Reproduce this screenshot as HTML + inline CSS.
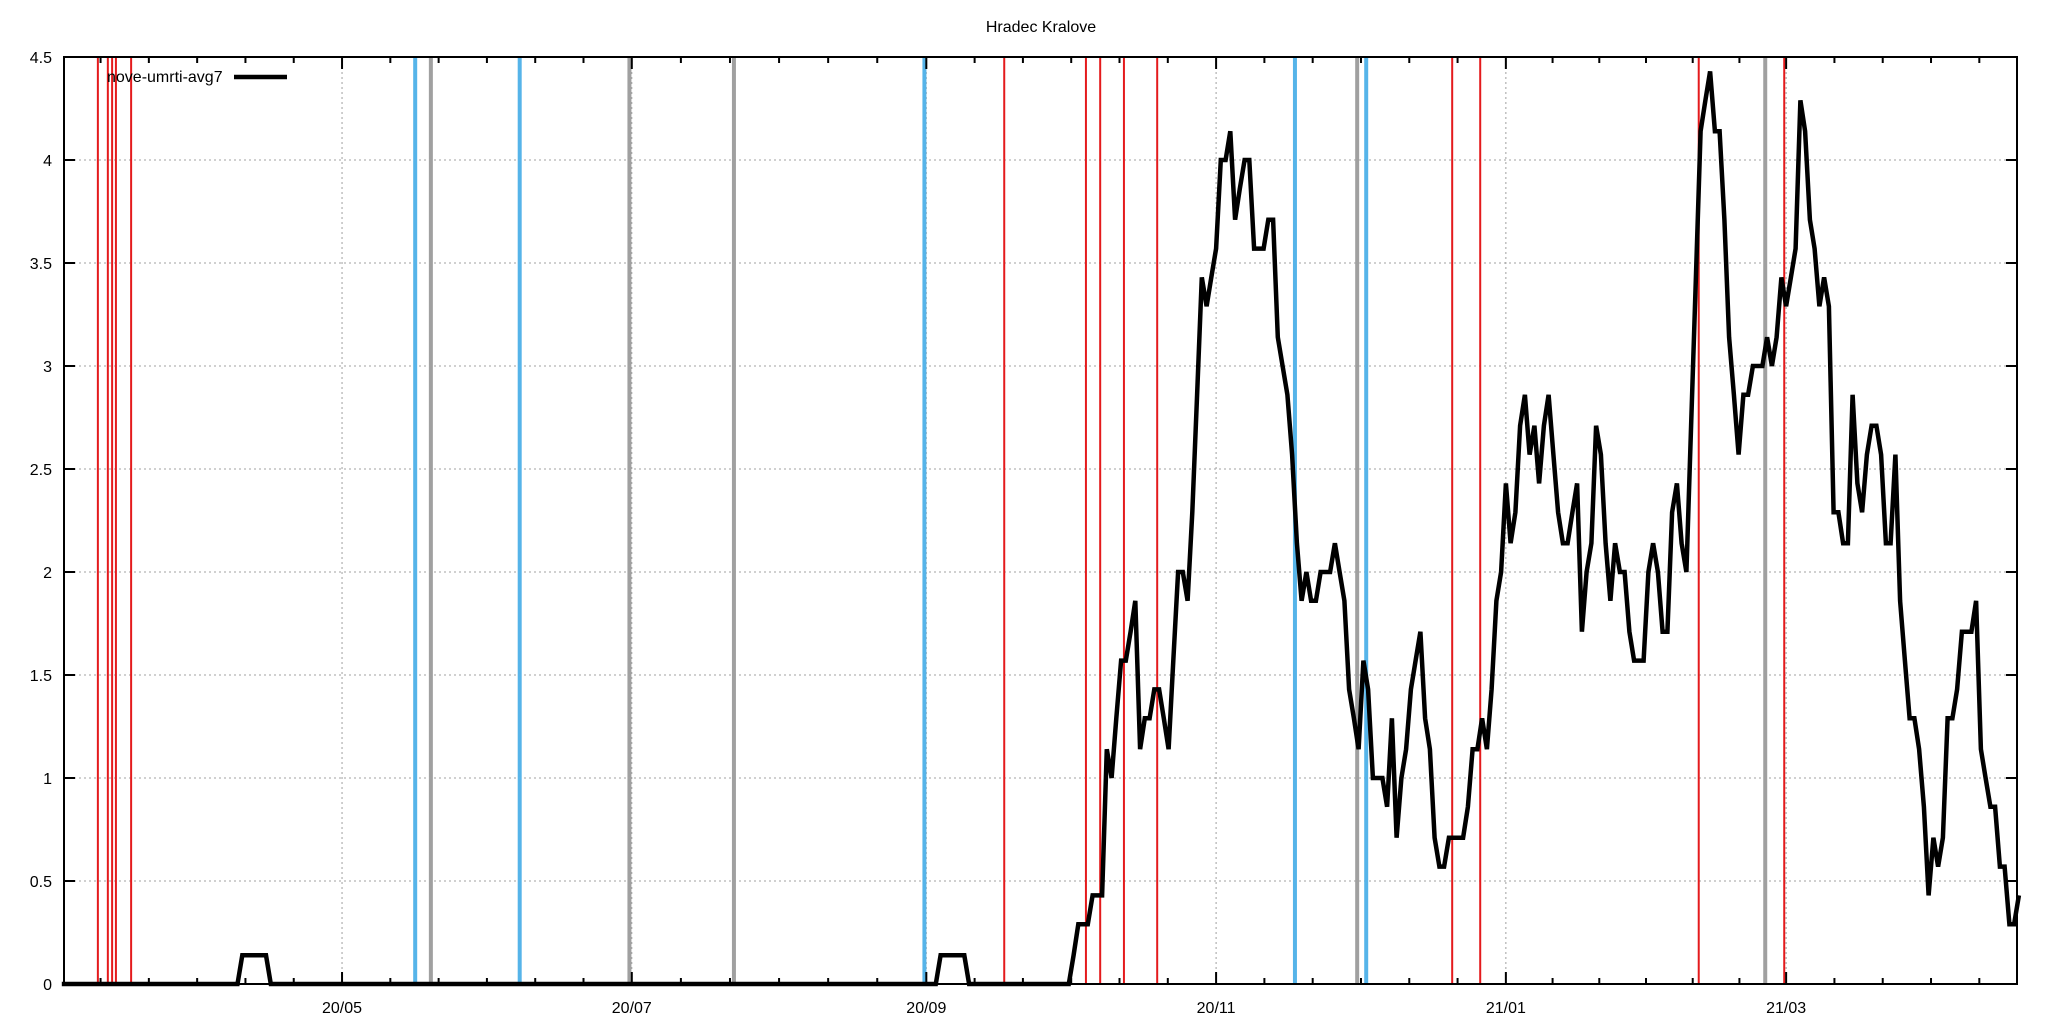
<!DOCTYPE html>
<html><head><meta charset="utf-8"><style>
html,body{margin:0;padding:0;background:#fff}
svg{display:block}
text{font-family:"Liberation Sans",sans-serif;fill:#000}
</style></head><body>
<svg id="chart" width="2048" height="1024" viewBox="0 0 2048 1024" xmlns="http://www.w3.org/2000/svg">
<text x="1041" y="32" font-size="16" text-anchor="middle">Hradec Kralove</text>
<g id="grid"></g>
<g id="vlines"></g>
<g id="series"></g>
<g id="axes"></g>
<g>
<text x="107" y="82" font-size="16">nove-umrti-avg7</text>
<line x1="234" y1="77" x2="287" y2="77" stroke="#000" stroke-width="4.5"/>
</g>
</svg>
<script>
// data (day offsets from 2020-03-03)
const earlyDays = [0, 37, 38, 43, 44, 184, 185, 190, 191, 211];
const earlyValues = [0, 0, 0.14, 0.14, 0, 0, 0.14, 0.14, 0, 0];
const dailyStartDay = 212;
const dailyValues = [0,0.14,0.29,0.29,0.29,0.43,0.43,0.43,1.14,1.0,1.29,1.57,1.57,1.71,1.86,1.14,1.29,1.29,1.43,1.43,1.29,1.14,1.57,2.0,2.0,1.86,2.29,2.86,3.43,3.29,3.43,3.57,4.0,4.0,4.14,3.71,3.86,4.0,4.0,3.57,3.57,3.57,3.71,3.71,3.14,3.0,2.86,2.57,2.14,1.86,2.0,1.86,1.86,2.0,2.0,2.0,2.14,2.0,1.86,1.43,1.29,1.14,1.57,1.43,1.0,1.0,1.0,0.86,1.29,0.71,1.0,1.14,1.43,1.57,1.71,1.29,1.14,0.71,0.57,0.57,0.71,0.71,0.71,0.71,0.86,1.14,1.14,1.29,1.14,1.43,1.86,2.0,2.43,2.14,2.29,2.71,2.86,2.57,2.71,2.43,2.71,2.86,2.57,2.29,2.14,2.14,2.29,2.43,1.71,2.0,2.14,2.71,2.57,2.14,1.86,2.14,2.0,2.0,1.71,1.57,1.57,1.57,2.0,2.14,2.0,1.71,1.71,2.29,2.43,2.14,2.0,2.71,3.43,4.14,4.29,4.43,4.14,4.14,3.71,3.14,2.86,2.57,2.86,2.86,3.0,3.0,3.0,3.14,3.0,3.14,3.43,3.29,3.43,3.57,4.29,4.14,3.71,3.57,3.29,3.43,3.29,2.29,2.29,2.14,2.14,2.86,2.43,2.29,2.57,2.71,2.71,2.57,2.14,2.14,2.57,1.86,1.57,1.29,1.29,1.14,0.86,0.43,0.71,0.57,0.71,1.29,1.29,1.43,1.71,1.71,1.71,1.86,1.14,1.0,0.86,0.86,0.57,0.57,0.29,0.29,0.43];
const redDays = [7.6, 9.7, 10.6, 11.4, 14.6, 198.4, 215.6, 218.6, 223.6, 230.6, 292.7, 298.6, 344.6, 362.6];
const blueDays = [74.4, 96.4, 181.6, 259.6, 274.6];
const grayDays = [77.7, 119.5, 141.5, 272.7, 358.6];
const yTicks = [0, 0.5, 1, 1.5, 2, 2.5, 3, 3.5, 4, 4.5];
const yTickLabels = ["0", "0.5", "1", "1.5", "2", "2.5", "3", "3.5", "4", "4.5"];
const xTickLabels = ["20/05", "20/07", "20/09", "20/11", "21/01", "21/03"];
const xTickMonths = [[2020,4],[2020,6],[2020,8],[2020,10],[2021,0],[2021,2]];

const L = 64, R = 2017, T = 57, B = 984;
const D0 = 0.47, D1 = 411.6, Y0 = 0, Y1 = 4.5;
const NS = "http://www.w3.org/2000/svg";
const base = Date.UTC(2020, 2, 3);
function dayOf(y, m) { return (Date.UTC(y, m, 1) - base) / 86400000; }
function xs(d) { return L + (d - D0) / (D1 - D0) * (R - L); }
function ys(v) { return B - (v - Y0) / (Y1 - Y0) * (B - T); }
function mk(tag, attrs, parent) {
  const el = document.createElementNS(NS, tag);
  for (const k in attrs) el.setAttribute(k, attrs[k]);
  parent.appendChild(el);
  return el;
}
const grid = document.getElementById('grid');
const vl = document.getElementById('vlines');
const ser = document.getElementById('series');
const ax = document.getElementById('axes');

yTicks.forEach((v, i) => {
  if (i === 0 || i === yTicks.length - 1) return;
  const g = mk('line', {x1: L, x2: R, y1: ys(v), y2: ys(v), stroke: '#a0a0a0', 'stroke-width': 1, 'stroke-dasharray': '2,3'}, grid);
  
  
});
const majorDays = xTickMonths.map(m => dayOf(m[0], m[1]));
majorDays.forEach(d => {
  const g = mk('line', {x1: xs(d), x2: xs(d), y1: T, y2: B, stroke: '#a0a0a0', 'stroke-width': 1, 'stroke-dasharray': '2,3'}, grid);
  
  
});

function vline(d, color, w, name) {
  const e = mk('line', {x1: xs(d), x2: xs(d), y1: T, y2: B, stroke: color, 'stroke-width': w}, vl);
  
  
}
redDays.forEach(d => vline(d, '#e41a1c', 2, 'red-event-line'));
blueDays.forEach(d => vline(d, '#56b4e9', 4, 'blue-event-line'));
grayDays.forEach(d => vline(d, '#a0a0a0', 4, 'gray-event-line'));

const pts = [];
earlyDays.forEach((d, i) => pts.push([d, earlyValues[i]]));
dailyValues.forEach((v, i) => pts.push([dailyStartDay + i, v]));
const pl = mk('polyline', {points: pts.map(p => xs(p[0]).toFixed(1) + ',' + ys(p[1]).toFixed(1)).join(' '), fill: 'none', stroke: '#000', 'stroke-width': 4.5, 'stroke-linejoin': 'miter'}, ser);



const border = mk('rect', {x: L, y: T, width: R - L, height: B - T, fill: 'none', stroke: '#000', 'stroke-width': 2}, ax);



yTicks.forEach((v, i) => {
  const t1 = mk('line', {x1: L, x2: L + 11, y1: ys(v), y2: ys(v), stroke: '#000', 'stroke-width': 2}, ax);
  
  
  const t2 = mk('line', {x1: R - 11, x2: R, y1: ys(v), y2: ys(v), stroke: '#000', 'stroke-width': 2}, ax);
  
  
  const lb = mk('text', {x: L - 12, y: ys(v) + 6, 'font-size': 16, 'text-anchor': 'end'}, ax);
  lb.textContent = yTickLabels[i];
  
  
});

function xtick(d, len) {
  if (d < D0 || d > D1) return;
  const a = mk('line', {x1: xs(d), x2: xs(d), y1: B, y2: B - len, stroke: '#000', 'stroke-width': 2}, ax);
  
  
  const b = mk('line', {x1: xs(d), x2: xs(d), y1: T, y2: T + len, stroke: '#000', 'stroke-width': 2}, ax);
  
  
}
const allMajor = [dayOf(2020, 2)].concat(majorDays).concat([dayOf(2021, 4)]);
for (let i = 0; i < allMajor.length - 1; i++) {
  const a = allMajor[i], b = allMajor[i + 1];
  for (let k = 1; k < 6; k++) xtick(a + (b - a) * k / 6, 6);
}
majorDays.forEach((d, i) => {
  xtick(d, 12);
  const lb = mk('text', {x: xs(d), y: 1013, 'font-size': 16, 'text-anchor': 'middle'}, ax);
  lb.textContent = xTickLabels[i];
  
  
});
</script>
</body></html>
